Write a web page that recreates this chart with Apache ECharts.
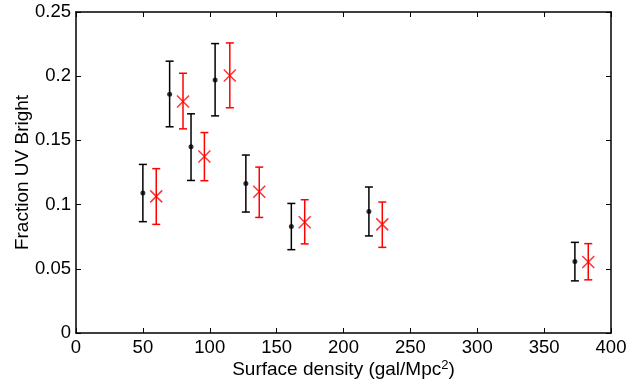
<!DOCTYPE html>
<html>
<head>
<meta charset="utf-8">
<script src="https://cdn.jsdelivr.net/npm/echarts@6/dist/echarts.min.js"></script>
<style>
html,body{margin:0;padding:0;background:#fff;}
#chart{width:636px;height:381px;}
</style>
</head>
<body>
<div id="chart"></div>
<script>
// Black series (all galaxies)
var blackX  = [50, 70, 86, 104, 127, 161, 219, 373];
var blackY  = [0.109, 0.186, 0.145, 0.197, 0.1165, 0.083, 0.0947, 0.0556];
var blackLo = [0.0867, 0.1606, 0.1188, 0.1691, 0.0942, 0.0649, 0.0756, 0.0406];
var blackHi = [0.1313, 0.2117, 0.1707, 0.2254, 0.1386, 0.1009, 0.1137, 0.0706];
// Red series
var redX  = [60, 80, 96, 115, 137, 171, 229, 383];
var redY  = [0.1064, 0.1803, 0.1375, 0.2005, 0.110, 0.0862, 0.0846, 0.0553];
var redLo = [0.0846, 0.159, 0.1186, 0.1754, 0.090, 0.0694, 0.0667, 0.0414];
var redHi = [0.128, 0.2023, 0.1561, 0.2259, 0.1292, 0.1038, 0.102, 0.0696];
// Axis ticks
var xTicks = [0, 50, 100, 150, 200, 250, 300, 350, 400];
var yTicks = [0, 0.05, 0.1, 0.15, 0.2, 0.25];

function zip(xs, ys) { return xs.map(function (x, i) { return [x, ys[i]]; }); }
function zipErr(xs, lo, hi) { return xs.map(function (x, i) { return [x, lo[i], hi[i]]; }); }

function errRender(color) {
  return function (params, api) {
    var x = api.value(0);
    var lo = api.coord([x, api.value(1)]);
    var hi = api.coord([x, api.value(2)]);
    var w = 4;
    var st = { stroke: color, lineWidth: 1.5 };
    return {
      type: 'group',
      children: [
        { type: 'line', shape: { x1: lo[0], y1: lo[1], x2: hi[0], y2: hi[1] }, style: st },
        { type: 'line', shape: { x1: lo[0] - w, y1: lo[1], x2: lo[0] + w, y2: lo[1] }, style: st },
        { type: 'line', shape: { x1: hi[0] - w, y1: hi[1], x2: hi[0] + w, y2: hi[1] }, style: st }
      ]
    };
  };
}

var font = 'Liberation Sans, Arial, Helvetica, sans-serif';
var chart = echarts.init(document.getElementById('chart'), null, { renderer: 'canvas' });
var xMin = xTicks[0], xMax = xTicks[xTicks.length - 1];
var yMin = yTicks[0], yMax = yTicks[yTicks.length - 1];

var axisLineStyle = { color: '#000', width: 1.5 };
chart.setOption({
  animation: false,
  backgroundColor: '#fff',
  grid: { left: 76, right: 25, top: 12, bottom: 48, containLabel: false, outerBoundsMode: 'none' },
  xAxis: [{
    type: 'value', min: xMin, max: xMax, interval: 50, position: 'bottom',
    axisLine: { show: true, onZero: false, lineStyle: axisLineStyle },
    axisTick: { show: true, inside: true, length: 5, lineStyle: { color: '#000', width: 1 } },
    axisLabel: { color: '#000', fontSize: 18.5, fontFamily: font, margin: 5 },
    splitLine: { show: false },
    name: '{t|Surface density (gal/Mpc}{s|2}{t|)}',
    nameLocation: 'middle', nameGap: 26, nameMoveOverlap: false,
    nameTextStyle: {
      rich: {
        t: { fontSize: 19, fontFamily: font, color: '#000' },
        s: { fontSize: 13, fontFamily: font, color: '#000', verticalAlign: 'top', padding: [0, 0, 9, 0] }
      }
    }
  }, {
    type: 'value', min: xMin, max: xMax, interval: 50, position: 'top',
    axisLine: { show: true, onZero: false, lineStyle: axisLineStyle },
    axisTick: { show: true, inside: true, length: 5, lineStyle: { color: '#000', width: 1 } },
    axisLabel: { show: false }, splitLine: { show: false }
  }],
  yAxis: [{
    type: 'value', min: yMin, max: yMax, interval: 0.05, position: 'left',
    axisLine: { show: true, onZero: false, lineStyle: axisLineStyle },
    axisTick: { show: true, inside: true, length: 5, lineStyle: { color: '#000', width: 1 } },
    axisLabel: {
      color: '#000', fontSize: 18.5, fontFamily: font, margin: 5,
      formatter: function (v) { return String(+v.toFixed(2)); }
    },
    splitLine: { show: false },
    name: 'Fraction UV Bright', nameLocation: 'middle', nameGap: 44, nameMoveOverlap: false,
    nameTextStyle: { fontSize: 19, fontFamily: font, color: '#000' }
  }, {
    type: 'value', min: yMin, max: yMax, interval: 0.05, position: 'right',
    axisLine: { show: true, onZero: false, lineStyle: axisLineStyle },
    axisTick: { show: true, inside: true, length: 5, lineStyle: { color: '#000', width: 1 } },
    axisLabel: { show: false }, splitLine: { show: false }
  }],
  series: [
    {
      type: 'custom', xAxisIndex: 0, yAxisIndex: 0,
      renderItem: errRender('#000'),
      data: zipErr(blackX, blackLo, blackHi), z: 2
    },
    {
      type: 'custom', xAxisIndex: 0, yAxisIndex: 0,
      renderItem: errRender('#ff0000'),
      data: zipErr(redX, redLo, redHi), z: 2
    },
    {
      type: 'scatter', xAxisIndex: 0, yAxisIndex: 0,
      symbol: 'circle', symbolSize: 5,
      itemStyle: { color: '#000' },
      data: zip(blackX, blackY), z: 3
    },
    {
      type: 'scatter', xAxisIndex: 0, yAxisIndex: 0,
      symbol: 'path://M0,0L10,10M10,0L0,10', symbolSize: 12,
      itemStyle: { color: 'none', borderColor: '#ff0000', borderWidth: 1.5 },
      data: zip(redX, redY), z: 3
    }
  ]
});
</script>
</body>
</html>
